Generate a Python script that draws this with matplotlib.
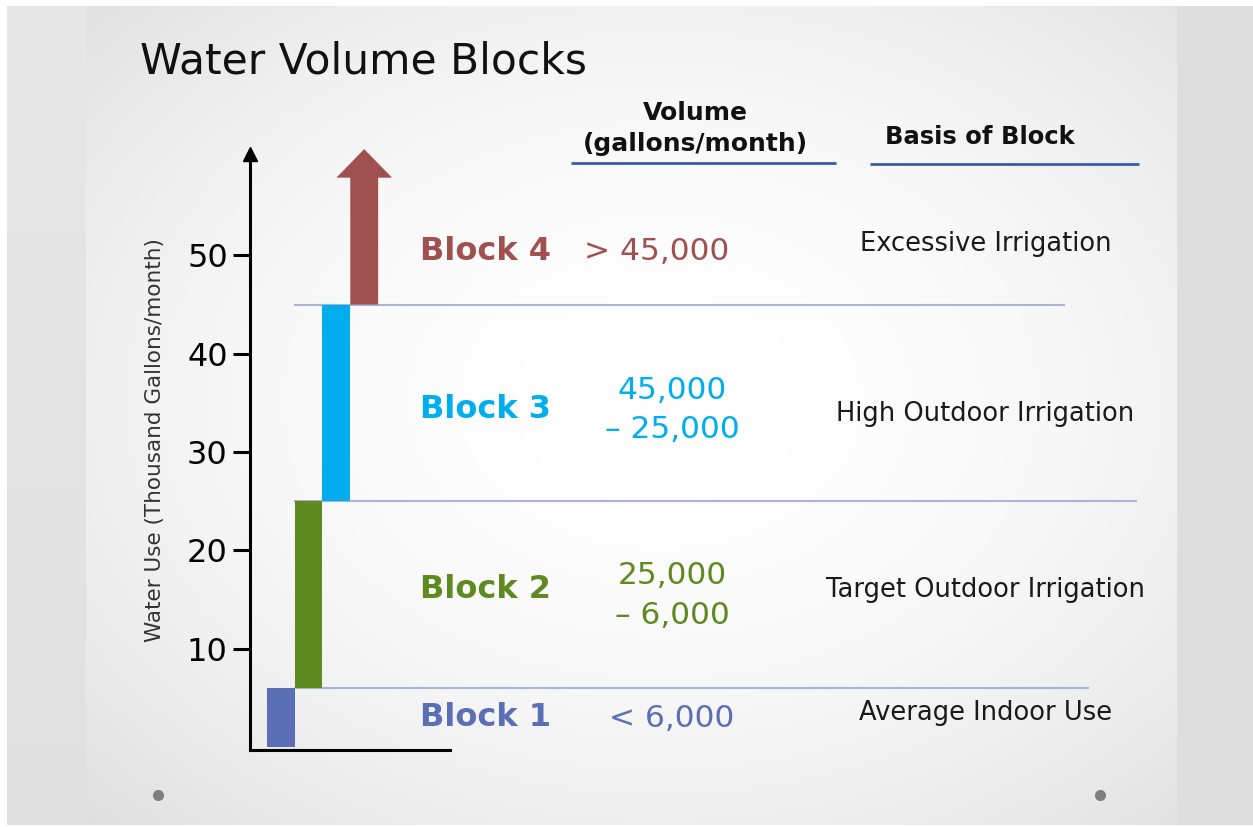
import numpy as np
import matplotlib
matplotlib.use("Agg")
import matplotlib.pyplot as plt
from matplotlib.patches import FancyArrow

# Block data (thousand gallons / month)
blocks = ['Block 1', 'Block 2', 'Block 3', 'Block 4']
lower = [0, 6, 25, 45]
upper = [6, 25, 45]          # block 4 is open-ended (arrow)
volume_text = ['< 6,000', '25,000\n\u2013 6,000', '45,000\n\u2013 25,000', '> 45,000']
basis_text = ['Average Indoor Use', 'Target Outdoor Irrigation',
              'High Outdoor Irrigation', 'Excessive Irrigation']
y_ticks = [10, 20, 30, 40, 50]

colors = ['#5a6fb5', '#5e8a1f', '#00aeef', '#a0504f']
W, H = 1253, 827
plt.rcParams['font.family'] = ['DejaVu Sans']

fig = plt.figure(figsize=(W / 100, H / 100), dpi=100)

# slide background
bg = fig.add_axes([0, 0, 1, 1], zorder=-5)
yy, xx = np.mgrid[0:H, 0:W]
r = np.sqrt(((xx - 660) / 760.0) ** 2 + ((yy - 400) / 560.0) ** 2)
val = 1.0 - 0.11 * np.clip(r, 0, 1.2) ** 2
val[:, 7:86] = 0.905 - 0.025 * (yy[:, 7:86] / H)
val[:, 1177:] = np.minimum(val[:, 1177:], 0.87)
val[:6, :] = 1.0
val[:, :7] = 1.0
val[825:, :] = 1.0
img = np.dstack([val, val, val])
bg.imshow(img, extent=[0, W, H, 0], aspect='auto', interpolation='bilinear')
bg.plot([158, 1100], [795, 795], 'o', color='#7f7f7f', ms=8, mec='none')
bg.set_xlim(0, W)
bg.set_ylim(H, 0)
bg.axis('off')

# chart axes: x unit = one bar width
ax = fig.add_axes([250 / W, (H - 750) / H, 1003 / W, 652 / H])
ax.set_xlim(0, 36)
ax.set_ylim(-0.3, 66)
ax.patch.set_alpha(0)

x0 = 0.6
lefts = [x0 + i for i in range(len(blocks))]
ax.bar(lefts[:3], np.array(upper) - np.array(lower[:3]), bottom=lower[:3],
       width=1, align='edge', color=colors[:3], zorder=3)
arrow_top = 60.8
ax.add_patch(FancyArrow(lefts[3] + 0.5, lower[3], 0, arrow_top - lower[3],
                        width=1, head_width=2.0, head_length=2.9,
                        length_includes_head=True, color=colors[3], lw=0, zorder=3))

# separator lines
line_ends = [30.07, 31.8, 29.2]
for yv, xe in zip(lower[1:], line_ends):
    ax.plot([x0 + 1, xe], [yv, yv], color='#aab4d6', lw=1.5, zorder=2)

# text columns (row heights in data units)
label_y = [3.0, 16.0, 34.3, 50.4]
vol_y = [2.95, 15.4, 34.3, 50.4]
basis_y = [3.5, 16.0, 33.9, 51.2]
for i in range(len(blocks)):
    ax.text(10.8, label_y[i], blocks[i], ha='right', va='center', fontsize=23,
            fontweight='bold', color=colors[i])
    vx = 14.6 if i == 3 else 15.15
    ax.text(vx, vol_y[i], volume_text[i], ha='center', va='center', fontsize=22.5,
            color=colors[i], linespacing=1.45)
    ax.text(26.4, basis_y[i], basis_text[i], ha='center', va='center', fontsize=18.5,
            color='#1a1a1a')

# column headers
ax.text(15.97, 62.9, 'Volume\n(gallons/month)', ha='center', va='center',
        fontsize=18, fontweight='bold', color='#111111', linespacing=1.4, clip_on=False)
ax.text(26.2, 62.05, 'Basis of Block', ha='center', va='center',
        fontsize=17.5, fontweight='bold', color='#111111', clip_on=False)
ax.plot([11.52, 21.03], [59.4, 59.4], color='#3a5ca8', lw=2, solid_capstyle='butt')
ax.plot([22.25, 31.9], [59.3, 59.3], color='#3a5ca8', lw=2, solid_capstyle='butt')

# axes styling
for s in ['top', 'right']:
    ax.spines[s].set_visible(False)
ax.spines['left'].set_linewidth(2.2)
ax.spines['bottom'].set_linewidth(2.2)
ax.spines['left'].set_bounds(-0.3, 60.0)
ax.spines['bottom'].set_bounds(0, 7.18)
ax.plot([0], [60.3], marker='^', ms=10, color='black', clip_on=False, zorder=4)
ax.set_yticks(y_ticks)
ax.set_yticklabels([str(t) for t in y_ticks], fontsize=23)
ax.tick_params(axis='y', length=12, width=2.2, pad=4)
ax.set_xticks([])
ax.set_ylabel('Water Use (Thousand Gallons/month)', fontsize=15.5, color='#333333')
ax.yaxis.set_label_coords(-0.085, 0.475)

fig.text(140 / W, 1 - 62 / H, 'Water Volume Blocks', fontsize=30.5, color='#111111',
         ha='left', va='center')

fig.savefig('out.png', dpi=100)
